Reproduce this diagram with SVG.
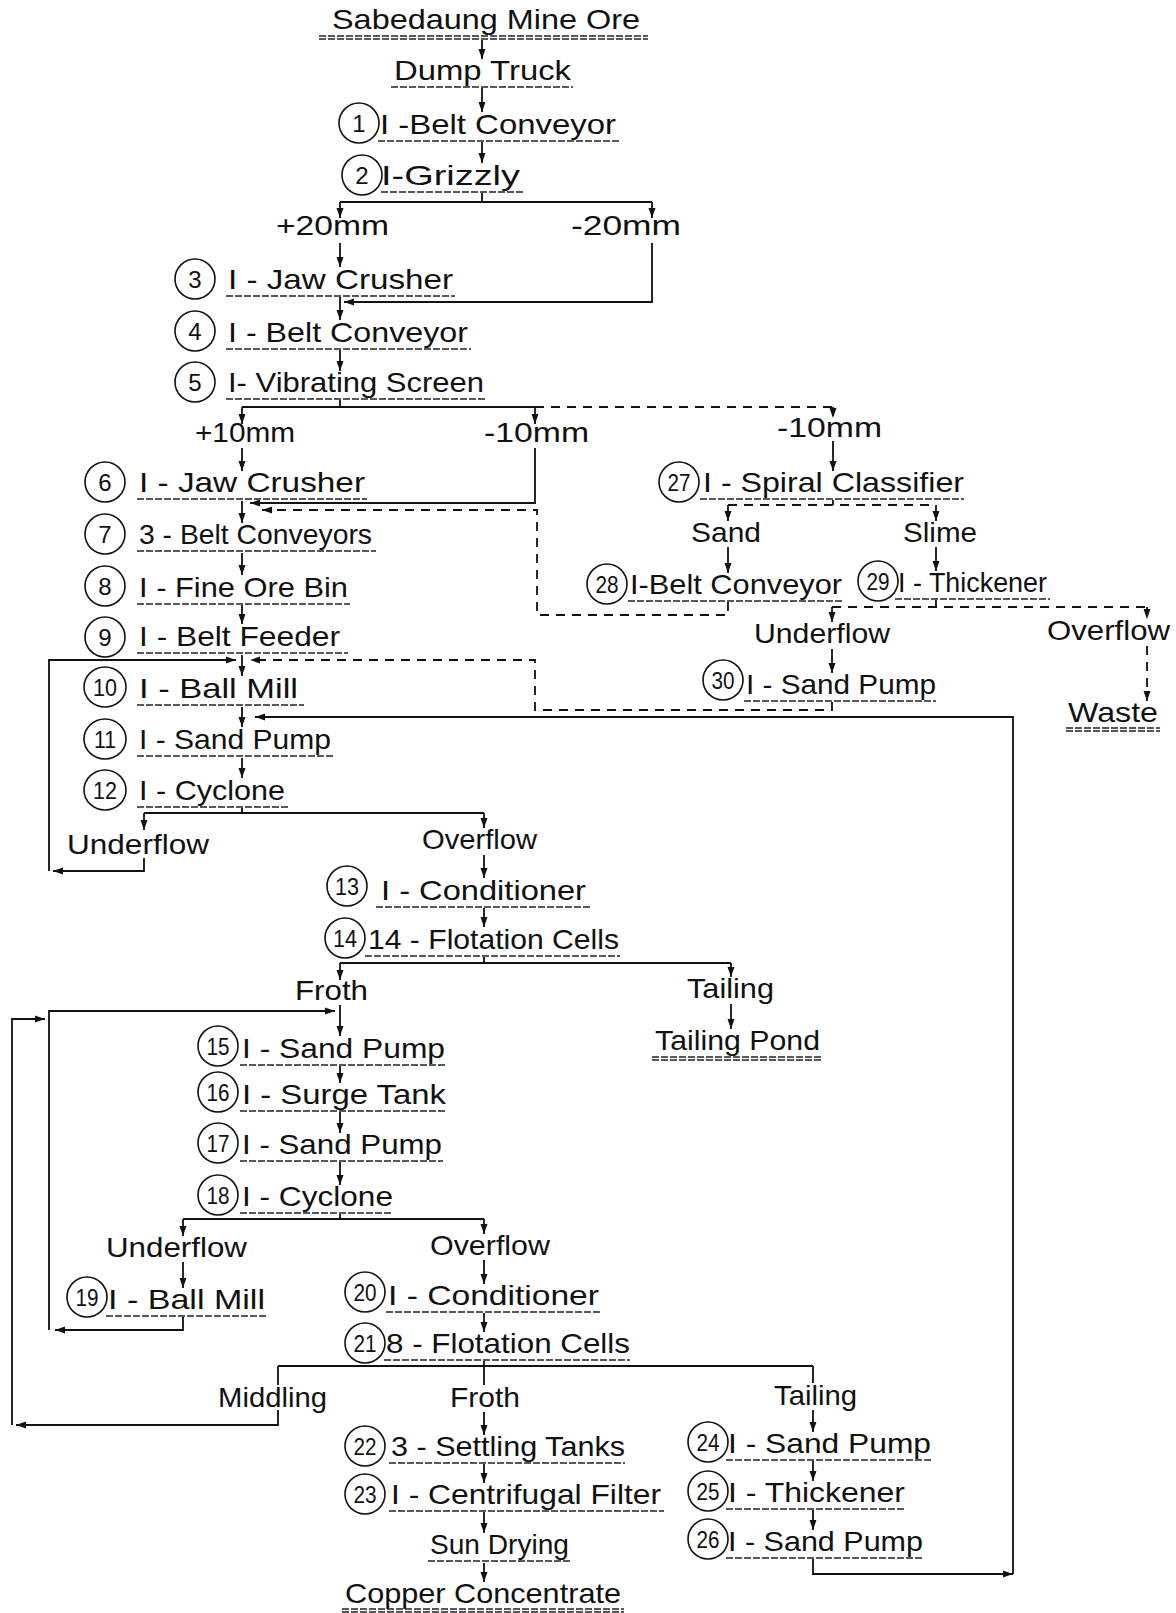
<svg xmlns="http://www.w3.org/2000/svg" width="1176" height="1613" viewBox="0 0 1176 1613">
<style>
.t{font-family:"Liberation Sans",Arial,sans-serif;font-size:28px;fill:#111}
.num{font-size:24px;text-anchor:middle}
.c{fill:none;stroke:#111;stroke-width:1.6}
.ul{stroke:#222;stroke-width:1.4;stroke-dasharray:7 2;fill:none}
.ln{stroke:#111;stroke-width:1.8;fill:none}
.ds{stroke-dasharray:9 7}
.ar{marker-end:url(#ah)}
</style>
<defs>
<marker id="ah" markerUnits="userSpaceOnUse" markerWidth="11" markerHeight="8" refX="10" refY="4" orient="auto">
<path d="M0,0.5 L10,4 L0,7.5 z" fill="#111"/>
</marker>
</defs>
<rect width="1176" height="1613" fill="#fff"/>

<g id="connectors">
<path class="ln ar" d="M482,40 V59"/>
<path class="ln ar" d="M482,88 V112"/>
<path class="ln ar" d="M482,142 V163"/>
<path class="ln" d="M482,193 V202 M340,202 H652"/>
<path class="ln ar" d="M340,202 V218"/>
<path class="ln ar" d="M652,202 V218"/>
<path class="ln ar" d="M340,243 V267"/>
<path class="ln ar" d="M652,243 V302 H344"/>
<path class="ln ar" d="M340,297 V320"/>
<path class="ln ar" d="M340,350 V371"/>
<path class="ln" d="M340,400 V407 M242,407 H535"/>
<path class="ln ds" d="M535,407 H833"/>
<path class="ln ar" d="M242,407 V424"/>
<path class="ln ar" d="M535,407 V424"/>
<path class="ln ds ar" d="M833,407 V418"/>
<path class="ln ar" d="M242,448 V471"/>
<path class="ln ar" d="M535,448 V503 H250"/>
<path class="ln ar" d="M833,441 V471"/>
<path class="ln ar" d="M242,501 V523"/>
<path class="ln ar" d="M242,553 V575"/>
<path class="ln ar" d="M242,605 V624"/>
<path class="ln ar" d="M242,655 V676"/>
<path class="ln ar" d="M242,707 V727"/>
<path class="ln ar" d="M242,758 V778"/>
<path class="ln" d="M242,808 V813 M144,813 H484"/>
<path class="ln ar" d="M144,813 V830"/>
<path class="ln ar" d="M484,813 V828"/>
<path class="ln ar" d="M144,858 V871 H53"/>
<path class="ln ar" d="M49,871 V660 H236"/>
<path class="ln ar" d="M484,855 V878"/>
<path class="ln ar" d="M484,908 V927"/>
<path class="ln" d="M484,957 V963 M340,963 H731"/>
<path class="ln ar" d="M340,963 V980"/>
<path class="ln ar" d="M731,963 V977"/>
<path class="ln ar" d="M731,1004 V1029"/>
<path class="ln ar" d="M340,1005 V1036"/>
<path class="ln ar" d="M340,1066 V1083"/>
<path class="ln ar" d="M340,1112 V1133"/>
<path class="ln ar" d="M340,1162 V1185"/>
<path class="ln" d="M340,1214 V1219 M183,1219 H484"/>
<path class="ln ar" d="M183,1219 V1236"/>
<path class="ln ar" d="M484,1219 V1234"/>
<path class="ln ar" d="M183,1262 V1288"/>
<path class="ln ar" d="M484,1260 V1284"/>
<path class="ln ar" d="M183,1317 V1330 H55"/>
<path class="ln ar" d="M49,1330 V1011 H335"/>
<path class="ln ar" d="M484,1313 V1332"/>
<path class="ln" d="M484,1361 V1366 M278,1366 H813"/>
<path class="ln" d="M278,1366 V1385 M484,1366 V1385 M813,1366 V1383"/>
<path class="ln ar" d="M278,1410 V1425 H16"/>
<path class="ln ar" d="M12,1425 V1019 H45"/>
<path class="ln ar" d="M484,1412 V1435"/>
<path class="ln ar" d="M813,1410 V1432"/>
<path class="ln ar" d="M484,1464 V1483"/>
<path class="ln ar" d="M813,1461 V1481"/>
<path class="ln ar" d="M813,1510 V1530"/>
<path class="ln ar" d="M484,1512 V1533"/>
<path class="ln ar" d="M484,1563 V1582"/>
<path class="ln ar" d="M813,1559 V1574 H1013"/>
<path class="ln ar" d="M1013,1574 V717 H255"/>
<path class="ln ds" d="M833,500 V505 M728,505 H936"/>
<path class="ln ar" d="M728,505 V521"/>
<path class="ln ar" d="M936,505 V521"/>
<path class="ln ar" d="M728,547 V573"/>
<path class="ln ar" d="M936,547 V571"/>
<path class="ln ds ar" d="M728,602 V615 H537 V510 H262"/>
<path class="ln ds" d="M936,600 V607 M832,607 H1147"/>
<path class="ln ar" d="M832,607 V622"/>
<path class="ln ds ar" d="M1147,607 V619"/>
<path class="ln ar" d="M832,649 V673"/>
<path class="ln ds ar" d="M1147,646 V701"/>
<path class="ln ds ar" d="M832,702 V710 H535 V660 H250"/>
</g>

<g id="src"><text class="t" x="332" y="29" textLength="308" lengthAdjust="spacingAndGlyphs">Sabedaung Mine Ore</text><line class="ul" x1="319" y1="36" x2="648" y2="36"/><line class="ul" x1="319" y1="39" x2="648" y2="39"/></g>
<g id="truck"><text class="t" x="394" y="80" textLength="177" lengthAdjust="spacingAndGlyphs">Dump  Truck</text><line class="ul" x1="391" y1="87" x2="573" y2="87"/></g>

<g id="n1"><ellipse class="c" cx="359" cy="123" rx="20" ry="20"/><text class="t num" x="359" y="132">1</text><text class="t" x="380" y="134" textLength="236" lengthAdjust="spacingAndGlyphs">I -Belt  Conveyor</text><line class="ul" x1="378" y1="141" x2="620" y2="141"/></g>
<g id="n2"><ellipse class="c" cx="362" cy="175" rx="20" ry="20"/><text class="t num" x="362" y="184">2</text><text class="t" x="381" y="185" textLength="139" lengthAdjust="spacingAndGlyphs">I-Grizzly</text><line class="ul" x1="381" y1="192" x2="523" y2="192"/></g>
<g id="n3"><ellipse class="c" cx="195" cy="279" rx="20" ry="20"/><text class="t num" x="195" y="288">3</text><text class="t" x="228" y="289" textLength="225" lengthAdjust="spacingAndGlyphs">I - Jaw Crusher</text><line class="ul" x1="226" y1="296" x2="455" y2="296"/></g>
<g id="n4"><ellipse class="c" cx="195" cy="331" rx="20" ry="20"/><text class="t num" x="195" y="340">4</text><text class="t" x="228" y="342" textLength="240" lengthAdjust="spacingAndGlyphs">I - Belt  Conveyor</text><line class="ul" x1="226" y1="349" x2="471" y2="349"/></g>
<g id="n5"><ellipse class="c" cx="195" cy="382" rx="20" ry="20"/><text class="t num" x="195" y="391">5</text><text class="t" x="228" y="392" textLength="256" lengthAdjust="spacingAndGlyphs">I-  Vibrating Screen</text><line class="ul" x1="226" y1="399" x2="486" y2="399"/></g>

<g id="l1"><text class="t" x="276" y="235" textLength="113" lengthAdjust="spacingAndGlyphs">+20mm</text></g>
<g id="l2"><text class="t" x="571" y="235" textLength="110" lengthAdjust="spacingAndGlyphs">-20mm</text></g>
<g id="l3"><text class="t" x="195" y="442" textLength="100" lengthAdjust="spacingAndGlyphs">+10mm</text></g>
<g id="l4"><text class="t" x="484" y="442" textLength="105" lengthAdjust="spacingAndGlyphs">-10mm</text></g>
<g id="l5"><text class="t" x="777" y="437" textLength="105" lengthAdjust="spacingAndGlyphs">-10mm</text></g>

<g id="n6"><ellipse class="c" cx="105" cy="482" rx="20" ry="20"/><text class="t num" x="105" y="491">6</text><text class="t" x="139" y="492" textLength="226" lengthAdjust="spacingAndGlyphs">I - Jaw Crusher</text><line class="ul" x1="137" y1="499" x2="367" y2="499"/></g>
<g id="n7"><ellipse class="c" cx="105" cy="534" rx="20" ry="20"/><text class="t num" x="105" y="543">7</text><text class="t" x="139" y="544" textLength="233" lengthAdjust="spacingAndGlyphs">3 - Belt  Conveyors</text><line class="ul" x1="137" y1="551" x2="376" y2="551"/></g>
<g id="n8"><ellipse class="c" cx="105" cy="586" rx="20" ry="20"/><text class="t num" x="105" y="595">8</text><text class="t" x="139" y="597" textLength="209" lengthAdjust="spacingAndGlyphs">I - Fine Ore Bin</text><line class="ul" x1="137" y1="604" x2="350" y2="604"/></g>
<g id="n9"><ellipse class="c" cx="105" cy="637" rx="20" ry="20"/><text class="t num" x="105" y="646">9</text><text class="t" x="139" y="646" textLength="201" lengthAdjust="spacingAndGlyphs">I - Belt  Feeder</text><line class="ul" x1="137" y1="653" x2="348" y2="653"/></g>
<g id="n10"><ellipse class="c" cx="105" cy="687" rx="21" ry="20"/><text class="t num" x="105" y="696" textLength="24" lengthAdjust="spacingAndGlyphs">10</text><text class="t" x="139" y="698" textLength="159" lengthAdjust="spacingAndGlyphs">I - Ball Mill</text><line class="ul" x1="137" y1="705" x2="304" y2="705"/></g>
<g id="n11"><ellipse class="c" cx="105" cy="739" rx="21" ry="20"/><text class="t num" x="105" y="748" textLength="22" lengthAdjust="spacingAndGlyphs">11</text><text class="t" x="139" y="749" textLength="192" lengthAdjust="spacingAndGlyphs">I - Sand Pump</text><line class="ul" x1="137" y1="756" x2="334" y2="756"/></g>
<g id="n12"><ellipse class="c" cx="105" cy="790" rx="21" ry="20"/><text class="t num" x="105" y="799" textLength="24" lengthAdjust="spacingAndGlyphs">12</text><text class="t" x="139" y="800" textLength="146" lengthAdjust="spacingAndGlyphs">I - Cyclone</text><line class="ul" x1="137" y1="807" x2="288" y2="807"/></g>

<g id="l6"><text class="t" x="67" y="854" textLength="142" lengthAdjust="spacingAndGlyphs">Underflow</text></g>
<g id="l7"><text class="t" x="422" y="849" textLength="115" lengthAdjust="spacingAndGlyphs">Overflow</text></g>

<g id="n13"><ellipse class="c" cx="347" cy="886" rx="20" ry="20"/><text class="t num" x="347" y="895" textLength="24" lengthAdjust="spacingAndGlyphs">13</text><text class="t" x="381" y="900" textLength="205" lengthAdjust="spacingAndGlyphs">I - Conditioner</text><line class="ul" x1="376" y1="907" x2="590" y2="907"/></g>
<g id="n14"><ellipse class="c" cx="345" cy="938" rx="20" ry="20"/><text class="t num" x="345" y="947" textLength="24" lengthAdjust="spacingAndGlyphs">14</text><text class="t" x="368" y="949" textLength="251" lengthAdjust="spacingAndGlyphs">14 - Flotation Cells</text><line class="ul" x1="365" y1="956" x2="620" y2="956"/></g>

<g id="l8"><text class="t" x="295" y="1000" textLength="73" lengthAdjust="spacingAndGlyphs">Froth</text></g>
<g id="l9"><text class="t" x="687" y="998" textLength="87" lengthAdjust="spacingAndGlyphs">Tailing</text></g>
<g id="pond"><text class="t" x="655" y="1050" textLength="165" lengthAdjust="spacingAndGlyphs">Tailing Pond</text><line class="ul" x1="652" y1="1057" x2="823" y2="1057"/><line class="ul" x1="652" y1="1060" x2="823" y2="1060"/></g>

<g id="n15"><ellipse class="c" cx="218" cy="1046" rx="20" ry="20"/><text class="t num" x="218" y="1055" textLength="23" lengthAdjust="spacingAndGlyphs">15</text><text class="t" x="242" y="1058" textLength="203" lengthAdjust="spacingAndGlyphs">I - Sand Pump</text><line class="ul" x1="240" y1="1065" x2="446" y2="1065"/></g>
<g id="n16"><ellipse class="c" cx="218" cy="1092" rx="20" ry="20"/><text class="t num" x="218" y="1101" textLength="23" lengthAdjust="spacingAndGlyphs">16</text><text class="t" x="242" y="1104" textLength="204" lengthAdjust="spacingAndGlyphs">I - Surge Tank</text><line class="ul" x1="240" y1="1111" x2="447" y2="1111"/></g>
<g id="n17"><ellipse class="c" cx="218" cy="1143" rx="20" ry="20"/><text class="t num" x="218" y="1152" textLength="23" lengthAdjust="spacingAndGlyphs">17</text><text class="t" x="242" y="1154" textLength="200" lengthAdjust="spacingAndGlyphs">I - Sand Pump</text><line class="ul" x1="240" y1="1161" x2="443" y2="1161"/></g>
<g id="n18"><ellipse class="c" cx="218" cy="1195" rx="20" ry="20"/><text class="t num" x="218" y="1204" textLength="23" lengthAdjust="spacingAndGlyphs">18</text><text class="t" x="242" y="1206" textLength="151" lengthAdjust="spacingAndGlyphs">I - Cyclone</text><line class="ul" x1="240" y1="1213" x2="393" y2="1213"/></g>

<g id="l10"><text class="t" x="106" y="1257" textLength="141" lengthAdjust="spacingAndGlyphs">Underflow</text></g>
<g id="l11"><text class="t" x="430" y="1255" textLength="120" lengthAdjust="spacingAndGlyphs">Overflow</text></g>

<g id="n19"><ellipse class="c" cx="87" cy="1297" rx="20" ry="20"/><text class="t num" x="87" y="1306" textLength="23" lengthAdjust="spacingAndGlyphs">19</text><text class="t" x="108" y="1309" textLength="157" lengthAdjust="spacingAndGlyphs">I - Ball Mill</text><line class="ul" x1="106" y1="1316" x2="268" y2="1316"/></g>
<g id="n20"><ellipse class="c" cx="365" cy="1292" rx="20" ry="20"/><text class="t num" x="365" y="1301" textLength="23" lengthAdjust="spacingAndGlyphs">20</text><text class="t" x="388" y="1305" textLength="211" lengthAdjust="spacingAndGlyphs">I - Conditioner</text><line class="ul" x1="386" y1="1312" x2="602" y2="1312"/></g>
<g id="n21"><ellipse class="c" cx="365" cy="1343" rx="20" ry="20"/><text class="t num" x="365" y="1352" textLength="23" lengthAdjust="spacingAndGlyphs">21</text><text class="t" x="386" y="1353" textLength="244" lengthAdjust="spacingAndGlyphs">8 - Flotation Cells</text><line class="ul" x1="384" y1="1360" x2="630" y2="1360"/></g>

<g id="l12"><text class="t" x="218" y="1407" textLength="109" lengthAdjust="spacingAndGlyphs">Middling</text></g>
<g id="l13"><text class="t" x="450" y="1407" textLength="70" lengthAdjust="spacingAndGlyphs">Froth</text></g>
<g id="l14"><text class="t" x="774" y="1405" textLength="83" lengthAdjust="spacingAndGlyphs">Tailing</text></g>

<g id="n22"><ellipse class="c" cx="365" cy="1446" rx="20" ry="20"/><text class="t num" x="365" y="1455" textLength="23" lengthAdjust="spacingAndGlyphs">22</text><text class="t" x="391" y="1456" textLength="234" lengthAdjust="spacingAndGlyphs">3 - Settling Tanks</text><line class="ul" x1="389" y1="1463" x2="625" y2="1463"/></g>
<g id="n23"><ellipse class="c" cx="365" cy="1494" rx="20" ry="20"/><text class="t num" x="365" y="1503" textLength="23" lengthAdjust="spacingAndGlyphs">23</text><text class="t" x="391" y="1504" textLength="270" lengthAdjust="spacingAndGlyphs">I - Centrifugal Filter</text><line class="ul" x1="389" y1="1511" x2="664" y2="1511"/></g>
<g id="sun"><text class="t" x="430" y="1554" textLength="139" lengthAdjust="spacingAndGlyphs">Sun Drying</text><line class="ul" x1="428" y1="1561" x2="571" y2="1561"/></g>
<g id="copper"><text class="t" x="345" y="1603" textLength="276" lengthAdjust="spacingAndGlyphs">Copper  Concentrate</text><line class="ul" x1="342" y1="1609" x2="624" y2="1609"/><line class="ul" x1="342" y1="1612" x2="624" y2="1612"/></g>

<g id="n24"><ellipse class="c" cx="708" cy="1442" rx="20" ry="20"/><text class="t num" x="708" y="1451" textLength="23" lengthAdjust="spacingAndGlyphs">24</text><text class="t" x="728" y="1453" textLength="203" lengthAdjust="spacingAndGlyphs">I - Sand  Pump</text><line class="ul" x1="726" y1="1460" x2="931" y2="1460"/></g>
<g id="n25"><ellipse class="c" cx="708" cy="1491" rx="20" ry="20"/><text class="t num" x="708" y="1500" textLength="23" lengthAdjust="spacingAndGlyphs">25</text><text class="t" x="728" y="1502" textLength="177" lengthAdjust="spacingAndGlyphs">I - Thickener</text><line class="ul" x1="726" y1="1509" x2="905" y2="1509"/></g>
<g id="n26"><ellipse class="c" cx="708" cy="1539" rx="20" ry="20"/><text class="t num" x="708" y="1548" textLength="23" lengthAdjust="spacingAndGlyphs">26</text><text class="t" x="728" y="1551" textLength="195" lengthAdjust="spacingAndGlyphs">I - Sand Pump</text><line class="ul" x1="726" y1="1558" x2="923" y2="1558"/></g>

<g id="n27"><ellipse class="c" cx="679" cy="482" rx="20" ry="20"/><text class="t num" x="679" y="491" textLength="23" lengthAdjust="spacingAndGlyphs">27</text><text class="t" x="703" y="492" textLength="261" lengthAdjust="spacingAndGlyphs">I - Spiral  Classifier</text><line class="ul" x1="700" y1="499" x2="964" y2="499"/></g>
<g id="l15"><text class="t" x="691" y="542" textLength="70" lengthAdjust="spacingAndGlyphs">Sand</text></g>
<g id="l16"><text class="t" x="903" y="542" textLength="74" lengthAdjust="spacingAndGlyphs">Slime</text></g>
<g id="n28"><ellipse class="c" cx="607" cy="584" rx="20" ry="20"/><text class="t num" x="607" y="593" textLength="23" lengthAdjust="spacingAndGlyphs">28</text><text class="t" x="630" y="594" textLength="212" lengthAdjust="spacingAndGlyphs">I-Belt Conveyor</text><line class="ul" x1="628" y1="601" x2="844" y2="601"/></g>
<g id="n29"><ellipse class="c" cx="878" cy="581" rx="20" ry="20"/><text class="t num" x="878" y="590" textLength="23" lengthAdjust="spacingAndGlyphs">29</text><text class="t" x="898" y="592" textLength="149" lengthAdjust="spacingAndGlyphs">I - Thickener</text><line class="ul" x1="895" y1="599" x2="1050" y2="599"/></g>
<g id="l17"><text class="t" x="754" y="643" textLength="136" lengthAdjust="spacingAndGlyphs">Underflow</text></g>
<g id="l18"><text class="t" x="1047" y="640" textLength="123" lengthAdjust="spacingAndGlyphs">Overflow</text></g>
<g id="waste"><text class="t" x="1068" y="722" textLength="90" lengthAdjust="spacingAndGlyphs">Waste</text><line class="ul" x1="1066" y1="728" x2="1160" y2="728"/><line class="ul" x1="1066" y1="731" x2="1160" y2="731"/></g>
<g id="n30"><ellipse class="c" cx="723" cy="680" rx="20" ry="20"/><text class="t num" x="723" y="689" textLength="23" lengthAdjust="spacingAndGlyphs">30</text><text class="t" x="746" y="694" textLength="190" lengthAdjust="spacingAndGlyphs">I - Sand Pump</text><line class="ul" x1="744" y1="701" x2="936" y2="701"/></g>
</svg>
